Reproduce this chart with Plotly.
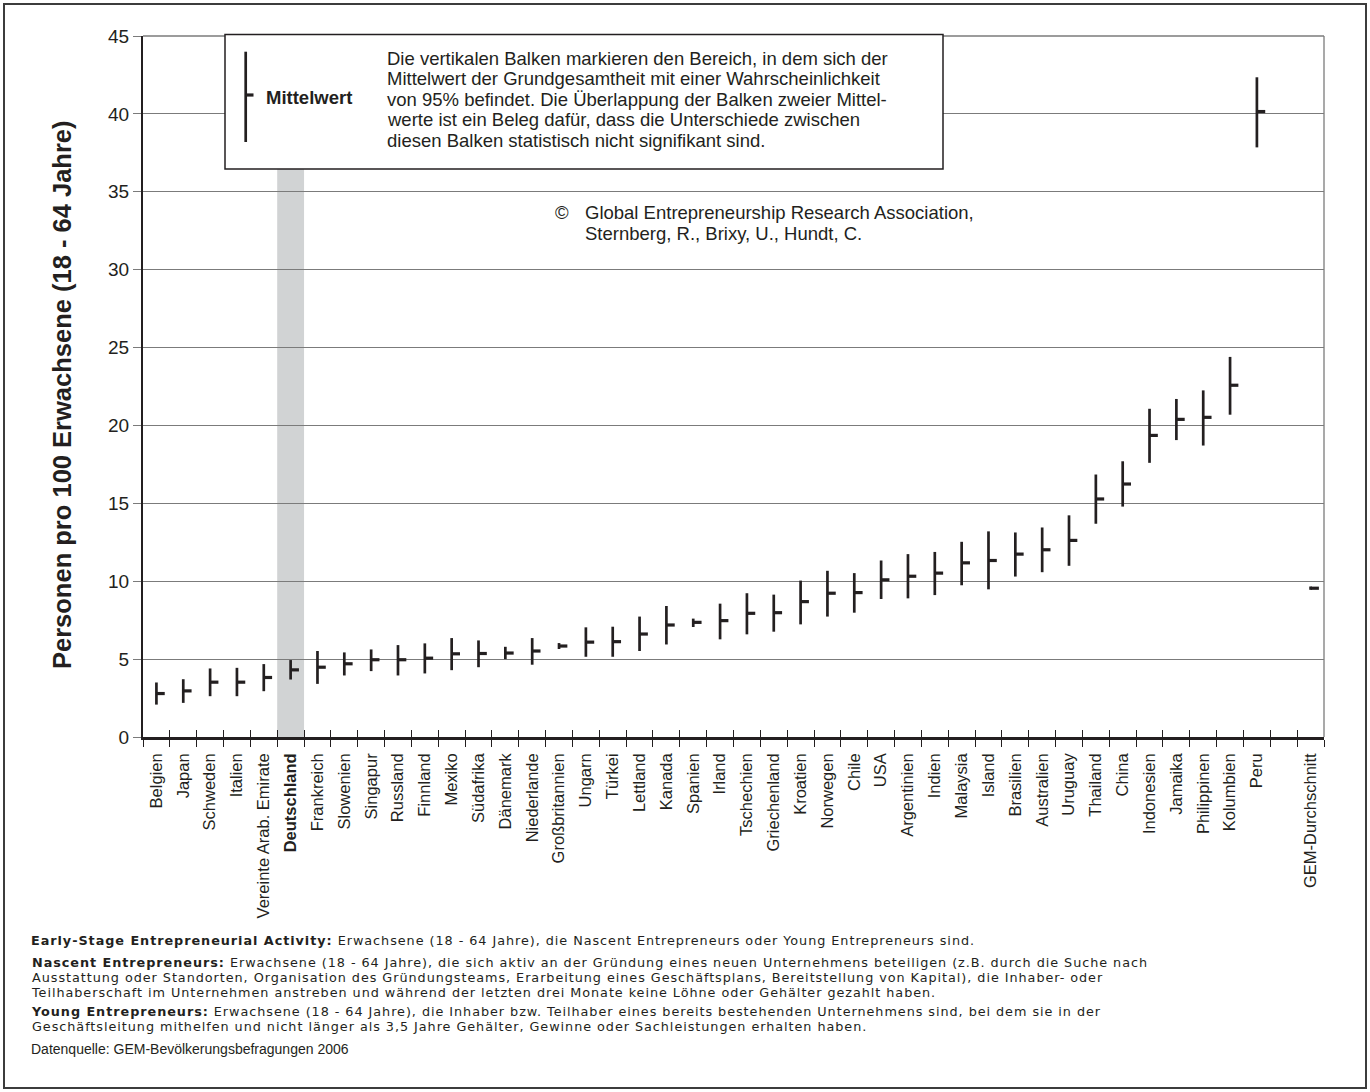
import plotly.graph_objects as go

# GEM 2006 – Early-Stage Entrepreneurial Activity: Mittelwert und 95%-Konfidenzbereich
laender = [
    "Belgien", "Japan", "Schweden", "Italien", "Vereinte Arab. Emirate", "Deutschland",
    "Frankreich", "Slowenien", "Singapur", "Russland", "Finnland", "Mexiko", "Südafrika",
    "Dänemark", "Niederlande", "Großbritannien", "Ungarn", "Türkei", "Lettland", "Kanada",
    "Spanien", "Irland", "Tschechien", "Griechenland", "Kroatien", "Norwegen", "Chile", "USA",
    "Argentinien", "Indien", "Malaysia", "Island", "Brasilien", "Australien", "Uruguay",
    "Thailand", "China", "Indonesien", "Jamaika", "Philippinen", "Kolumbien", "Peru",
]
mittelwert = [
    2.79, 2.96, 3.52, 3.52, 3.82, 4.31, 4.48, 4.70, 4.96, 4.96, 5.06, 5.34, 5.36, 5.39,
    5.52, 5.84, 6.09, 6.12, 6.61, 7.19, 7.36, 7.47, 7.94, 7.98, 8.69, 9.23, 9.27, 10.09,
    10.32, 10.52, 11.18, 11.33, 11.74, 12.02, 12.62, 15.28, 16.24, 19.36, 20.39, 20.52,
    22.58, 40.15,
]
untergrenze = [
    2.08, 2.19, 2.62, 2.62, 2.94, 3.69, 3.41, 3.95, 4.23, 3.95, 4.08, 4.29, 4.48, 5.00,
    4.64, 5.65, 5.15, 5.15, 5.52, 5.94, 7.06, 6.27, 6.59, 6.76, 7.23, 7.73, 7.98, 8.86,
    8.90, 9.11, 9.74, 9.48, 10.30, 10.58, 10.99, 13.69, 14.79, 17.60, 19.06, 18.71,
    20.69, 37.85,
]
obergrenze = [
    3.50, 3.71, 4.40, 4.44, 4.68, 4.94, 5.52, 5.43, 5.62, 5.90, 6.01, 6.35, 6.20, 5.79,
    6.35, 6.03, 7.04, 7.08, 7.73, 8.41, 7.60, 8.56, 9.23, 9.14, 10.04, 10.67, 10.52, 11.33,
    11.74, 11.88, 12.53, 13.20, 13.13, 13.45, 14.23, 16.85, 17.70, 21.07, 21.70, 22.25,
    24.40, 42.35,
]
durchschnitt_name = "GEM-Durchschnitt"
durchschnitt_mittel = 9.55
durchschnitt_unten = 9.45
durchschnitt_oben = 9.66
hervorgehoben = "Deutschland"
y_werte = [0, 5, 10, 15, 20, 25, 30, 35, 40, 45]

y_titel = "Personen pro 100 Erwachsene (18 - 64 Jahre)"
hinweis_zeilen = [
    "Die vertikalen Balken markieren den Bereich, in dem sich der",
    "Mittelwert der Grundgesamtheit mit einer Wahrscheinlichkeit",
    "von 95% befindet. Die Überlappung der Balken zweier Mittel-",
    "werte ist ein Beleg dafür, dass die Unterschiede zwischen",
    "diesen Balken statistisch nicht signifikant sind.",
]
copyright_zeilen = [
    "Global Entrepreneurship Research Association,",
    "Sternberg, R., Brixy, U., Hundt, C.",
]
# definitions below the chart, one list of lines per paragraph
absaetze = [
    ["<b>Early-Stage Entrepreneurial Activity:</b> Erwachsene (18 - 64 Jahre), die Nascent Entrepreneurs oder Young Entrepreneurs sind."],
    ["<b>Nascent Entrepreneurs:</b> Erwachsene (18 - 64 Jahre), die sich aktiv an der Gründung eines neuen Unternehmens beteiligen (z.B. durch die Suche nach",
     "Ausstattung oder Standorten, Organisation des Gründungsteams, Erarbeitung eines Geschäftsplans, Bereitstellung von Kapital), die Inhaber- oder",
     "Teilhaberschaft im Unternehmen anstreben und während der letzten drei Monate keine Löhne oder Gehälter gezahlt haben."],
    ["<b>Young Entrepreneurs:</b> Erwachsene (18 - 64 Jahre), die Inhaber bzw. Teilhaber eines bereits bestehenden Unternehmens sind, bei dem sie in der",
     "Geschäftsleitung mithelfen und nicht länger als 3,5 Jahre Gehälter, Gewinne oder Sachleistungen erhalten haben."],
]
quelle = "Datenquelle: GEM-Bevölkerungsbefragungen 2006"

# ---- page geometry (pixels) ----
W, H = 1370, 1092
L, R, T, B = 143, 1324, 36, 737
INK = "#231f20"
GRID = "#7b7b7b"
FONT = "Liberation Sans, Arial, Helvetica, sans-serif"
WIDE = "DejaVu Sans, Verdana, sans-serif"


def px_x(px):
    return (px - L) / (R - L)


def px_y(py):
    return (B - py) / (B - T)


# category slots: all countries, one empty slot, then the GEM average
slots = laender + [""] + [durchschnitt_name]
n = len(slots)
centers = list(range(n))
bounds = [i - 0.5 for i in range(n + 1)]
ticktext = [f"<b>{s}</b>" if s == hervorgehoben else s for s in slots]

pos = list(range(len(laender))) + [n - 1]
lo = untergrenze + [durchschnitt_unten]
hi = obergrenze + [durchschnitt_oben]
mw = mittelwert + [durchschnitt_mittel]

TICK = 0.31  # length of the mean marker, in category widths
vx, vy, mx, my = [], [], [], []
for p, a, b, m in zip(pos, lo, hi, mw):
    vx += [p, p, None]
    vy += [a, b, None]
    mx += [p, p + TICK, None]
    my += [m, m, None]

fig = go.Figure()
fig.add_trace(go.Scatter(x=vx, y=vy, mode="lines", line=dict(color=INK, width=2.7),
                         hoverinfo="skip", showlegend=False))
fig.add_trace(go.Scatter(x=mx, y=my, mode="lines", line=dict(color=INK, width=3.2),
                         hoverinfo="skip", showlegend=False))
# carrier for the inner tick marks of the category axis
fig.add_trace(go.Scatter(x=[0], y=[0], xaxis="x2", mode="markers", marker=dict(opacity=0),
                         hoverinfo="skip", showlegend=False))

xr = [-0.5, n - 0.5]
fig.update_layout(
    width=W, height=H,
    margin=dict(l=L, r=W - R, t=T, b=H - B, autoexpand=False),
    paper_bgcolor="white", plot_bgcolor="white",
    font=dict(family=FONT, color=INK),
    showlegend=False,
    xaxis=dict(
        range=xr, tickmode="array", tickvals=centers, ticktext=ticktext,
        tickangle=-90, tickfont=dict(size=16.5, color=INK), ticks="",
        ticklabelstandoff=7,
        minor=dict(tickmode="array", tickvals=bounds, ticks="outside", ticklen=7,
                   tickwidth=1.3, tickcolor=INK, showgrid=False),
        showline=True, linecolor=INK, linewidth=2.5, showgrid=False, zeroline=False,
        automargin=False, fixedrange=True,
    ),
    xaxis2=dict(
        overlaying="x", anchor="y", side="bottom", range=xr, tickmode="array",
        tickvals=bounds, ticks="inside", ticklen=7, tickwidth=1.3, tickcolor=INK,
        showticklabels=False, showgrid=False, showline=False, zeroline=False,
        automargin=False,
    ),
    yaxis=dict(
        range=[0, 45], tickmode="array", tickvals=y_werte,
        tickfont=dict(size=19, color=INK), ticks="outside", ticklen=8, tickcolor=GRID,
        tickwidth=1, showgrid=True, gridcolor=GRID, gridwidth=1,
        showline=True, linecolor=INK, linewidth=2, zeroline=False,
        automargin=False, fixedrange=True,
    ),
)

shapes = []
# highlighted column behind Germany
gi = slots.index(hervorgehoben)
shapes.append(dict(type="rect", xref="x", yref="y", x0=gi - 0.5, x1=gi + 0.5, y0=0, y1=45,
                   fillcolor="#d1d3d4", line=dict(width=0), layer="below"))
# top and right edge of the plotting area
shapes.append(dict(type="line", xref="paper", yref="paper", x0=1, x1=1, y0=0, y1=1,
                   line=dict(color=GRID, width=1.3), layer="above"))
shapes.append(dict(type="line", xref="paper", yref="paper", x0=0, x1=1, y0=1, y1=1,
                   line=dict(color=GRID, width=1.3), layer="above"))
# note box with key
shapes.append(dict(type="rect", xref="paper", yref="paper",
                   x0=px_x(225), x1=px_x(943), y0=px_y(169), y1=px_y(34.5),
                   fillcolor="white", line=dict(color=INK, width=1.5), layer="above"))
shapes.append(dict(type="line", xref="paper", yref="paper",
                   x0=px_x(245.7), x1=px_x(245.7), y0=px_y(142), y1=px_y(51.7),
                   line=dict(color=INK, width=2.7), layer="above"))
shapes.append(dict(type="line", xref="paper", yref="paper",
                   x0=px_x(245.7), x1=px_x(253.5), y0=px_y(95), y1=px_y(95),
                   line=dict(color=INK, width=3.2), layer="above"))
# outer frame of the page
shapes.append(dict(type="rect", xref="paper", yref="paper",
                   x0=px_x(4), x1=px_x(1366), y0=px_y(1088), y1=px_y(4),
                   line=dict(color="#3c3c3c", width=2), fillcolor="rgba(0,0,0,0)",
                   layer="above"))
fig.update_layout(shapes=shapes)

ann = []


def text(px, py, s, size, xanchor="left", yanchor="middle", bold=False, family=FONT, angle=0):
    ann.append(dict(
        xref="paper", yref="paper", x=px_x(px), y=px_y(py), text=f"<b>{s}</b>" if bold else s,
        showarrow=False, xanchor=xanchor, yanchor=yanchor, align="left", textangle=angle,
        font=dict(family=family, size=size, color=INK),
    ))


text(62, 395, y_titel, 25.5, xanchor="center", bold=True, angle=-90)
text(264, 97.5, "Mittelwert", 18.5, bold=True)
for i, z in enumerate(hinweis_zeilen):
    text(385, 58.3 + i * 20.45, z, 18.5)
text(553, 213, "©", 18.5)
for i, z in enumerate(copyright_zeilen):
    text(583, 213 + i * 20, z, 18.5)

# definitions: the base size sets the line pitch, the span sets the glyphs
LS = 14.9
PITCH_SIZE = LS / 1.3
GLYPH = '<span style="font-size:12.8px;letter-spacing:0.95px">{}</span>'
absatz_top = [931, 952.5, 1001.5]
for zeilen, top in zip(absaetze, absatz_top):
    body = "<br>".join(GLYPH.format(z) for z in zeilen)
    text(29, top, body, PITCH_SIZE, yanchor="top", family=WIDE)
text(29, 1048.5, quelle, 14)

fig.update_layout(annotations=ann)
fig.write_html("out.html")
